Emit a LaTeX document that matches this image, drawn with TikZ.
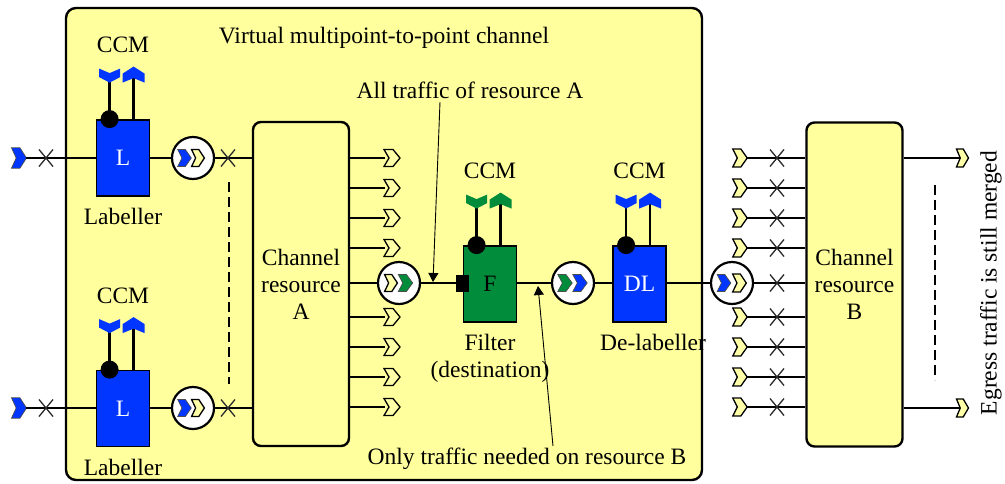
\documentclass[tikz,border=0pt]{standalone}
\usepackage{fontspec}
\setmainfont{Liberation Serif}
\usetikzlibrary{arrows.meta,calc}
\definecolor{bgyel}{HTML}{FFFF9E}
\definecolor{chyel}{HTML}{FFFFA8}
\definecolor{myblue}{HTML}{0036FF}
\definecolor{mygreen}{HTML}{008C3A}
\definecolor{xgray}{HTML}{2A2A2A}
\tikzset{
  wire/.style={line width=2.4pt},
  chevpic/.pic={\path[pic actions] (-8,-8.5) -- (1,-8.5) -- (8,0) -- (1,8.5) -- (-8,8.5) -- (-3,0) -- cycle;},
  downflag/.pic={\path[pic actions] (-10.5,-6.5) -- (0,-2) -- (10.5,-6.5) -- (10.5,2) -- (0,7.5) -- (-10.5,2) -- cycle;},
  upflag/.pic={\path[pic actions] (0,-8) -- (11,-1) -- (11,8) -- (0,3.5) -- (-11,8) -- (-11,-1) -- cycle;},
  xmpic/.pic={\draw[xgray,line width=1.3pt] (-7,-8.5) -- (7,8.5) (7,-8.5) -- (-7,8.5);},
  yelchev/.style={fill=chyel,draw=black,line width=1.3pt,line join=miter},
  bluechev/.style={fill=myblue,draw=black!70,line width=0.7pt},
  greenchev/.style={fill=mygreen,draw=black!70,line width=0.7pt},
  funcbox/.style={draw,line width=1.8pt,minimum width=53pt,minimum height=76pt,inner sep=0pt},
  chanbox/.style={draw,fill=bgyel,line width=2.4pt,rounded corners=8pt,minimum width=96pt,minimum height=324pt,inner sep=0pt,align=center},
  ring/.style={circle,draw,fill=white,line width=2.2pt,minimum size=42pt,inner sep=0pt},
  pointer/.style={line width=0.9pt,-{Triangle[width=10pt,length=9pt]}},
  dashline/.style={line width=2.2pt,dash pattern=on 10pt off 5pt},
}
\newcommand\ccmunit[2]{%
  \path (#1.north west) ++(14,0) coordinate (#1d) ++(24,0) coordinate (#1u);
  \draw[wire] (#1d) -- ++(0,-38);
  \draw[wire] (#1u) -- ++(0,-44);
  \pic[fill=#2] at ($(#1d)+(0,-44)$) {downflag};
  \pic[fill=#2] at ($(#1u)+(0,-44.5)$) {upflag};
  \fill (#1d) circle (9pt);
  \node (#1ccm) at ($(#1.north)+(0,-74)$) {CCM};
}
\begin{document}
\begin{tikzpicture}[x=1pt,y=-1pt,font=\fontsize{23.5}{27}\selectfont]
\useasboundingbox (0,0) rectangle (1005,483);
% outer channel
\node[draw,fill=bgyel,line width=2.4pt,rounded corners=10pt,minimum width=636pt,minimum height=472pt,inner sep=0pt] (vc) at (384,244) {};
\node (title) at (384,38) {Virtual multipoint-to-point channel};

% boxes
\node[funcbox,fill=myblue,text=white] (L1) at (123,158) {L};
\node[funcbox,fill=myblue,text=white] (L2) at (123,408.5) {L};
\node[funcbox,fill=mygreen] (F) at (490,284) {F};
\node[funcbox,fill=myblue,text=white] (DL) at (639.5,284) {DL};
\node[chanbox] (A) at (301,284) {Channel\\resource\\A};
\node[chanbox] (B) at (854.5,284.5) {Channel\\resource\\B};

\ccmunit{L1}{myblue}
\ccmunit{L2}{myblue}
\ccmunit{F}{mygreen}
\ccmunit{DL}{myblue}

\node (lab1) at (123,216) {Labeller};
\node (lab2) at (123,467) {Labeller};
\node[align=center] (flab) at (490,358) {Filter\\(destination)};
\node (dlab) at (653,342) {De-labeller};

% rings
\node[ring] (c1) at (193,158) {};
\node[ring] (c2) at (193,408) {};
\node[ring] (cA) at (399,283) {};
\node[ring] (cF) at (573,283) {};
\node[ring] (cB) at (732,283) {};

% labeller rows
\foreach \r/\yy in {1/158,2/408}{
  \coordinate (in\r) at (26,\yy);
  \pic[bluechev,xscale=0.94,yscale=1.2] at (19,\yy) {chevpic};
  \draw[wire] (in\r) -- (L\r.west |- in\r);
  \pic at (46,\yy) {xmpic};
  \draw[wire] (L\r.east |- in\r) -- (c\r.west);
  \draw[wire] (c\r.east) -- (A.west |- c\r);
  \pic at (228,\yy) {xmpic};
  \pic[bluechev,xscale=0.85] at (184.5,\yy) {chevpic};
  \pic[yelchev,xscale=0.8] at (198,\yy) {chevpic};
}
\coordinate (d1a) at (229,182);
\coordinate (d1b) at (229,384);
\draw[dashline] (d1a) -- (d1b);

% outputs of A
\foreach \yy in {158,188,218,248,317,347,377,407}{
  \draw[wire] (A.east |- 0,\yy) -- (385,\yy);
  \pic[yelchev] at (392,\yy) {chevpic};
}
\draw[wire] (A.east |- cA) -- (cA.west);
\pic[yelchev,xscale=0.8] at (391,283) {chevpic};
\pic[greenchev,xscale=0.9] at (405.5,283) {chevpic};
\draw[wire] (cA.east) -- (F.west |- cA);
\fill (F.west |- cA) ++(-6.5,-8.5) rectangle ++(13,17);

\draw[wire] (F.east |- cF) -- (cF.west);
\pic[greenchev,xscale=0.9] at (565,283) {chevpic};
\pic[bluechev,xscale=0.9] at (580,283) {chevpic};
\draw[wire] (cF.east) -- (DL.west |- cF);
\draw[wire] (DL.east |- cB) -- (cB.west);
\pic[bluechev,xscale=0.85] at (724,283) {chevpic};
\pic[yelchev,xscale=0.85,yscale=1.05] at (739.5,283) {chevpic};
\draw[wire] (cB.east) -- (B.west |- cB);
\pic at (777,283) {xmpic};

% inputs of B
\foreach \yy in {158,188,218,248,317,347,377,407}{
  \draw[wire] (747,\yy) -- (B.west |- 0,\yy);
  \pic[yelchev,xscale=0.9,yscale=1.05] at (740,\yy) {chevpic};
  \pic at (777,\yy) {xmpic};
}
% outputs of B
\foreach \yy in {158,408}{
  \draw[wire] (B.east |- 0,\yy) -- (962,\yy);
  \pic[yelchev,xscale=0.75,yscale=1.05] at (962.5,\yy) {chevpic};
}
\coordinate (d2a) at (935,185);
\coordinate (d2b) at (935,380);
\draw[dashline] (d2a) -- (d2b);
\node[rotate=90] (egress) at (991,283) {Egress traffic is still merged};

% annotations
\node (t1) at (470,90) {All traffic of resource A};
\coordinate (t1s) at (440,102);
\coordinate (t1e) at (433,282);
\draw[pointer] (t1s) -- (t1e);
\node (t2) at (527,459) {Only traffic needed on resource B};
\coordinate (t2s) at (553,446);
\coordinate (t2e) at (538,286);
\draw[pointer] (t2s) -- (t2e);
\end{tikzpicture}
\end{document}
